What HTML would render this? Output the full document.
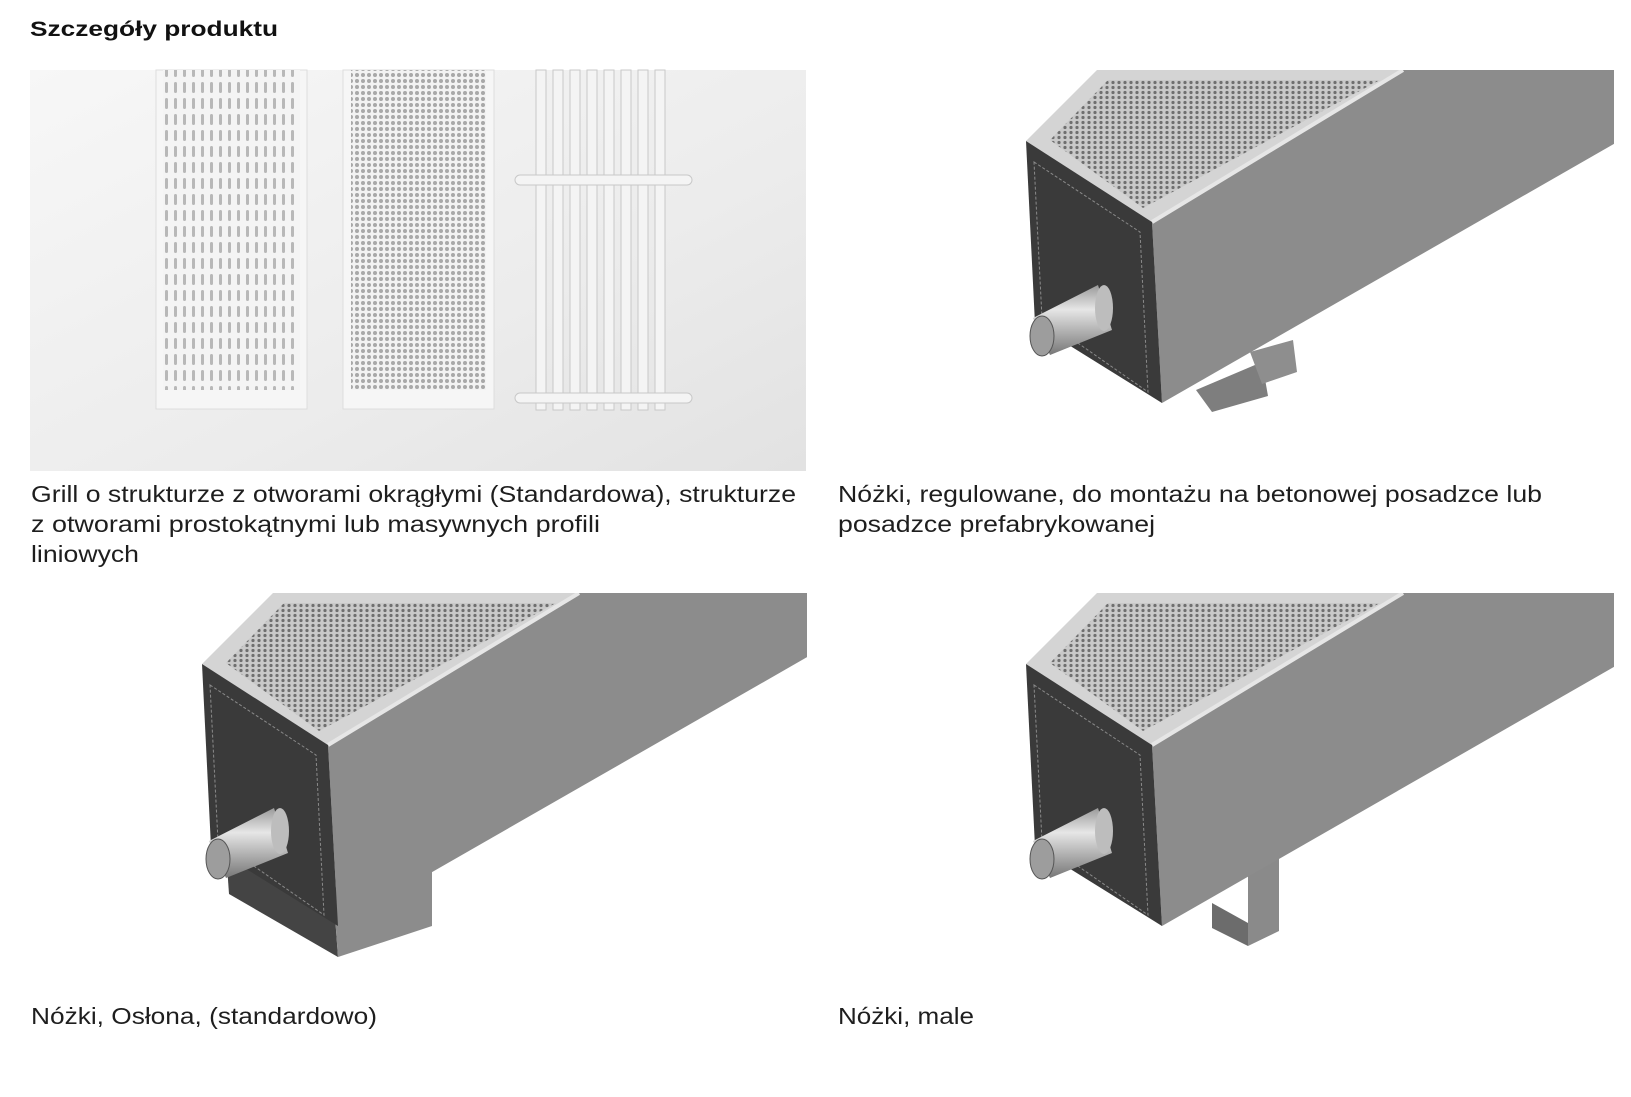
<!DOCTYPE html>
<html><head><meta charset="utf-8"><style>
html,body{margin:0;padding:0;background:#fff;width:1631px;height:1097px;overflow:hidden}
svg{display:block}
text{font-family:"Liberation Sans",Arial,sans-serif;fill:#1e1e1e}
</style></head><body>
<svg width="1631" height="1097" viewBox="0 0 1631 1097" xmlns="http://www.w3.org/2000/svg">
<defs>
<linearGradient id="bg" x1="0" y1="0" x2="1" y2="1">
<stop offset="0" stop-color="#f7f7f7"/><stop offset="0.6" stop-color="#ececec"/><stop offset="1" stop-color="#e2e2e2"/>
</linearGradient>
<pattern id="slots" width="9" height="16" patternUnits="userSpaceOnUse">
<rect width="9" height="16" fill="#f4f4f4"/><rect x="3" y="2" width="3" height="11" rx="1.5" fill="#b8b8b8"/>
</pattern>
<pattern id="holes" width="6" height="6" patternUnits="userSpaceOnUse">
<rect width="6" height="6" fill="#f2f2f2"/><circle cx="3" cy="3" r="2" fill="#a8a8a8"/>
</pattern>
<pattern id="mesh" width="6" height="5" patternUnits="userSpaceOnUse">
<rect width="6" height="5" fill="#c9c9c9"/><circle cx="3" cy="2.5" r="1.6" fill="#6f6f6f"/>
</pattern>
<linearGradient id="pipe" x1="0" y1="0" x2="0" y2="1">
<stop offset="0" stop-color="#9a9a9a"/><stop offset="0.35" stop-color="#e6e6e6"/><stop offset="1" stop-color="#777"/>
</linearGradient>
<clipPath id="c1"><rect x="838" y="70" width="776" height="420"/></clipPath>
<clipPath id="c2"><rect x="30" y="593" width="777" height="400"/></clipPath>
<clipPath id="c3"><rect x="838" y="593" width="776" height="400"/></clipPath>
<g id="rad">
  <polygon points="1152,222 1403,70 1640,70 1640,129 1162,403" fill="#8c8c8c"/>
  <polygon points="1026,141 1097,70 1403,70 1152,222" fill="#d4d4d4"/>
  <polygon points="1050,140 1108,80 1380,80 1143,208" fill="url(#mesh)"/>
  <line x1="1152" y1="222" x2="1403" y2="70" stroke="#e6e6e6" stroke-width="4"/>
  <polygon points="1026,141 1152,222 1162,403 1035,324" fill="#3a3a3a"/>
  <polygon points="1034,162 1140,232 1148,392 1042,318" fill="none" stroke="#8a8a8a" stroke-width="1" stroke-dasharray="3,2"/>
  <polygon points="1033,318 1098,285 1112,330 1050,355" fill="url(#pipe)"/>
  <ellipse cx="1104" cy="308" rx="9" ry="23" fill="#bdbdbd"/>
  <ellipse cx="1042" cy="336" rx="12" ry="20" fill="#9d9d9d" stroke="#555"/>
</g>
</defs>

<text x="30" y="36" font-size="21" font-weight="bold" style="fill:#111" textLength="248" lengthAdjust="spacingAndGlyphs">Szczegóły produktu</text>

<rect x="30" y="70" width="776" height="401" fill="url(#bg)"/>
<rect x="156" y="70" width="151" height="339" fill="#f6f6f6" stroke="#ddd"/>
<rect x="163" y="70" width="137" height="320" fill="url(#slots)"/>
<rect x="343" y="70" width="151" height="339" fill="#f6f6f6" stroke="#ddd"/>
<rect x="351" y="70" width="135" height="320" fill="url(#holes)"/>
<g fill="#f4f4f4" stroke="#c8c8c8">
<rect x="536" y="70" width="10" height="340"/><rect x="553" y="70" width="10" height="340"/>
<rect x="570" y="70" width="10" height="340"/><rect x="587" y="70" width="10" height="340"/>
<rect x="604" y="70" width="10" height="340"/><rect x="621" y="70" width="10" height="340"/>
<rect x="638" y="70" width="10" height="340"/><rect x="655" y="70" width="10" height="340"/>
<rect x="515" y="175" width="177" height="10" rx="5"/>
<rect x="515" y="393" width="177" height="10" rx="5"/>
</g>

<g clip-path="url(#c1)">
  <polygon points="1196,390 1262,362 1268,396 1212,412" fill="#7e7e7e"/>
  <polygon points="1250,352 1293,340 1297,372 1262,384" fill="#8e8e8e"/>
  <use href="#rad"/>
</g>

<g clip-path="url(#c2)">
  <g transform="translate(-824,523)">
    <polygon points="1048,299 1157,366 1162,434 1053,371" fill="#444"/>
    <polygon points="1157,366 1256,309 1256,403 1162,434" fill="#8c8c8c"/>
    <use href="#rad"/>
  </g>
</g>

<g clip-path="url(#c3)">
  <g transform="translate(0,523)">
    <polygon points="1212,380 1248,400 1248,423 1212,405" fill="#6c6c6c"/>
    <polygon points="1248,345 1279,335 1279,408 1248,423" fill="#8a8a8a"/>
    <use href="#rad"/>
  </g>
</g>

<g font-size="23">
<text x="31" y="502" textLength="765" lengthAdjust="spacingAndGlyphs">Grill o strukturze z otworami okrągłymi (Standardowa), strukturze</text>
<text x="31" y="532" textLength="569" lengthAdjust="spacingAndGlyphs">z otworami prostokątnymi lub masywnych profili</text>
<text x="31" y="562" textLength="108" lengthAdjust="spacingAndGlyphs">liniowych</text>
<text x="838" y="502" textLength="704" lengthAdjust="spacingAndGlyphs">Nóżki, regulowane, do montażu na betonowej posadzce lub</text>
<text x="838" y="532" textLength="317" lengthAdjust="spacingAndGlyphs">posadzce prefabrykowanej</text>
<text x="31" y="1024" textLength="346" lengthAdjust="spacingAndGlyphs">Nóżki, Osłona, (standardowo)</text>
<text x="838" y="1024" textLength="136" lengthAdjust="spacingAndGlyphs">Nóżki, male</text>
</g>
</svg>
</body></html>
